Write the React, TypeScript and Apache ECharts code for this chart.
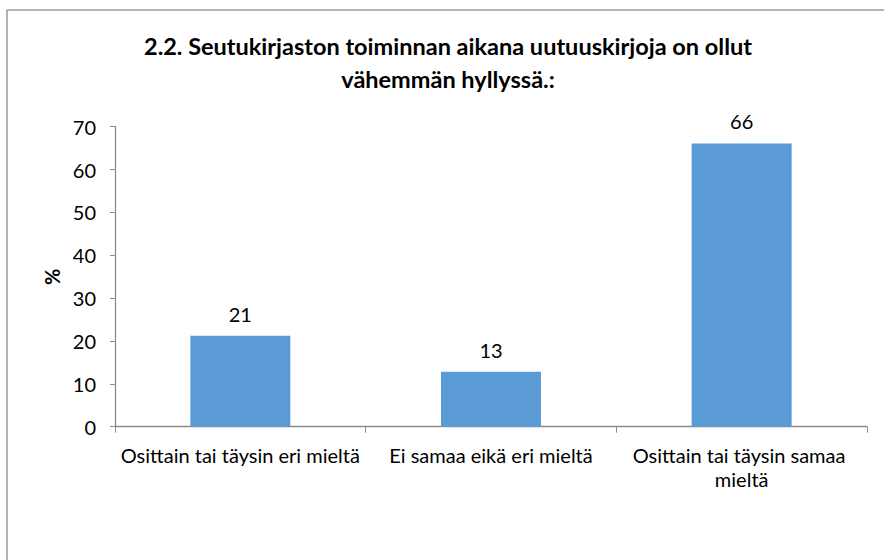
import React, { useEffect, useRef } from "react";
import * as echarts from "echarts";

const titleText = "2.2. Seutukirjaston toiminnan aikana uutuuskirjoja on ollut\nvähemmän hyllyssä.:";
const categories = [
  "Osittain tai täysin eri mieltä",
  "Ei samaa eikä eri mieltä",
  "Osittain tai täysin samaa mieltä",
];
const values = [21.2, 12.8, 66.1];
const yAxisName = "%";
const yMin = 0;
const yMax = 70;
const yInterval = 10;

const FONT = "Lato, 'Noto Sans', sans-serif";

export default function App() {
  const ref = useRef<HTMLDivElement>(null);
  useEffect(() => {
    if (!ref.current) return;
    const chart = echarts.init(ref.current, undefined, { renderer: "svg" });
    chart.setOption({
      animation: false,
      backgroundColor: "#ffffff",
      textStyle: { fontFamily: FONT, color: "#000" },
      title: {
        text: titleText,
        left: 443,
        textAlign: "center",
        top: 24,
        textStyle: {
          fontFamily: FONT,
          fontSize: 23.5,
          fontWeight: "bold",
          color: "#000",
          lineHeight: 33,
        },
      },
      graphic: [
        {
          type: "line",
          shape: { x1: 7, y1: 10, x2: 884, y2: 10 },
          style: { stroke: "#9a9a9a", lineWidth: 1.5 },
          silent: true,
        },
        {
          type: "line",
          shape: { x1: 7, y1: 10, x2: 7, y2: 560 },
          style: { stroke: "#9a9a9a", lineWidth: 1.5 },
          silent: true,
        },
      ],
      grid: { left: 115, right: 17, top: 126.7, bottom: 133.3, containLabel: false },
      xAxis: {
        type: "category",
        data: categories,
        axisLine: { lineStyle: { color: "#8c8c8c", width: 1.3 } },
        axisTick: { show: true, length: 6, alignWithLabel: false, lineStyle: { color: "#8c8c8c" } },
        axisLabel: {
          fontFamily: FONT,
          fontSize: 20,
          color: "#000",
          margin: 16,
          interval: 0,
          width: 262,
          overflow: "break",
          lineHeight: 24,
        },
      },
      yAxis: {
        type: "value",
        min: yMin,
        max: yMax,
        interval: yInterval,
        name: yAxisName,
        nameLocation: "middle",
        nameGap: 50,
        nameRotate: 90,
        nameTextStyle: { fontFamily: FONT, fontSize: 20, fontWeight: "bold", color: "#000" },
        axisLine: { show: true, lineStyle: { color: "#8c8c8c", width: 1.3 } },
        axisTick: { show: true, length: 5, lineStyle: { color: "#8c8c8c" } },
        splitLine: { show: false },
        axisLabel: { fontFamily: FONT, fontSize: 20, color: "#000", margin: 19 },
      },
      series: [
        {
          type: "bar",
          data: values,
          barWidth: 100,
          itemStyle: { color: "#5B9BD5" },
          label: {
            show: true,
            position: "top",
            distance: 12,
            fontFamily: FONT,
            fontSize: 20,
            color: "#000",
            formatter: (p: any) => Math.round(p.value).toString(),
          },
        },
      ],
    });
    return () => chart.dispose();
  }, []);
  return (
    <div
      ref={ref}
      style={{ position: "fixed", left: 0, top: 0, width: 884, height: 560 }}
    />
  );
}
